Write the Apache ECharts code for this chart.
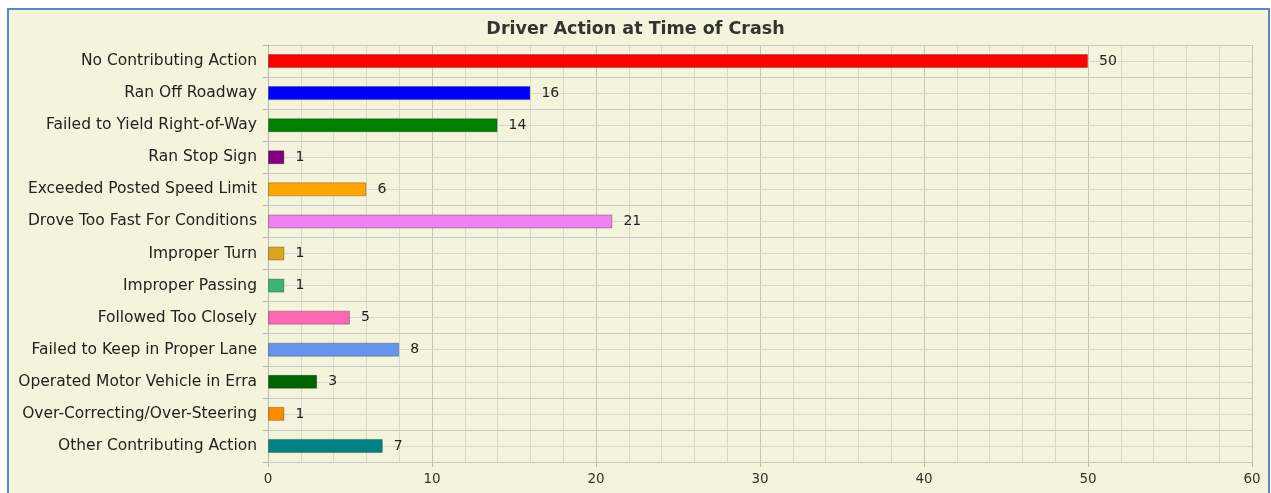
<!DOCTYPE html>
<html>
<head>
<meta charset="utf-8">
<script src="https://cdn.jsdelivr.net/npm/echarts@6/dist/echarts.min.js"></script>
<style>
  html, body { margin: 0; padding: 0; background: #fff; }
  .panel {
    position: absolute; left: 7px; top: 8px; width: 1259px; height: 520px;
    border: 2px solid #5b87c4; background: #f4f4dc;
  }
  #chart { position: absolute; left: 0; top: 0; width: 1271px; height: 493px; }
</style>
</head>
<body>
<div class="panel"></div>
<div id="chart"></div>
<script>
// 分类
const actions = [
  'No Contributing Action',
  'Ran Off Roadway',
  'Failed to Yield Right-of-Way',
  'Ran Stop Sign',
  'Exceeded Posted Speed Limit',
  'Drove Too Fast For Conditions',
  'Improper Turn',
  'Improper Passing',
  'Followed Too Closely',
  'Failed to Keep in Proper Lane',
  'Operated Motor Vehicle in Erra',
  'Over-Correcting/Over-Steering',
  'Other Contributing Action'
]
const counts = [50, 16, 14, 1, 6, 21, 1, 1, 5, 8, 3, 1, 7]
const barColors = [
  '#ff0000', '#0000ff', '#008000', '#800080', '#ffa500', '#ee82ee', '#daa520',
  '#3cb371', '#ff69b4', '#6495ed', '#006400', '#ff8c00', '#008080'
]

const chart = echarts.init(document.getElementById('chart'))

const font = 'DejaVu Sans'

const option = {
  animation: false,
  backgroundColor: 'transparent',
  title: {
    text: 'Driver Action at Time of Crash',
    left: 'center',
    top: 15,
    textStyle: { fontFamily: font, fontSize: 17.5, fontWeight: 'bold', color: '#333' }
  },
  grid: { left: 268, right: 19, top: 45, bottom: 31 },
  xAxis: {
    type: 'value',
    min: 0,
    max: 60,
    interval: 10,
    axisLine: { show: true, lineStyle: { color: '#b8b8b8' } },
    axisTick: { show: true, length: 5, lineStyle: { color: '#b8b8b8' } },
    axisLabel: { fontFamily: font, fontSize: 13.5, color: '#333', margin: 10 },
    splitLine: { show: true, lineStyle: { color: '#c4c4c4' } },
    minorTick: { show: false, splitNumber: 5 },
    minorSplitLine: { show: true, lineStyle: { color: '#d8d8d0' } }
  },
  yAxis: [
    {
      type: 'category',
      data: actions,
      inverse: true,
      axisLine: { show: true, lineStyle: { color: '#b8b8b8' } },
      axisTick: { show: true, length: 5, lineStyle: { color: '#b8b8b8' } },
      axisLabel: { fontFamily: font, fontSize: 15.5, color: '#222', margin: 11 },
      splitLine: { show: true, lineStyle: { color: '#c8c8c8' } },
      z: 3
    },
    {
      type: 'value',
      min: 0,
      max: 26,
      interval: 1,
      show: true,
      axisLine: { show: false },
      axisTick: { show: false },
      axisLabel: { show: false },
      splitLine: { show: true, lineStyle: { color: '#d8d8d0' } },
      z: 1
    }
  ],
  series: [
    {
      type: 'bar',
      yAxisIndex: 0,
      barWidth: 14,
      data: counts.map((v, i) => ({
        value: v,
        itemStyle: { color: barColors[i] }
      })),
      itemStyle: { borderColor: 'rgba(0,0,0,0.25)', borderWidth: 1 },
      label: {
        show: true,
        position: 'right',
        distance: 11,
        fontFamily: font,
        fontSize: 14,
        color: '#222'
      },
      z: 5
    }
  ]
}

chart.setOption(option)
</script>
</body>
</html>
